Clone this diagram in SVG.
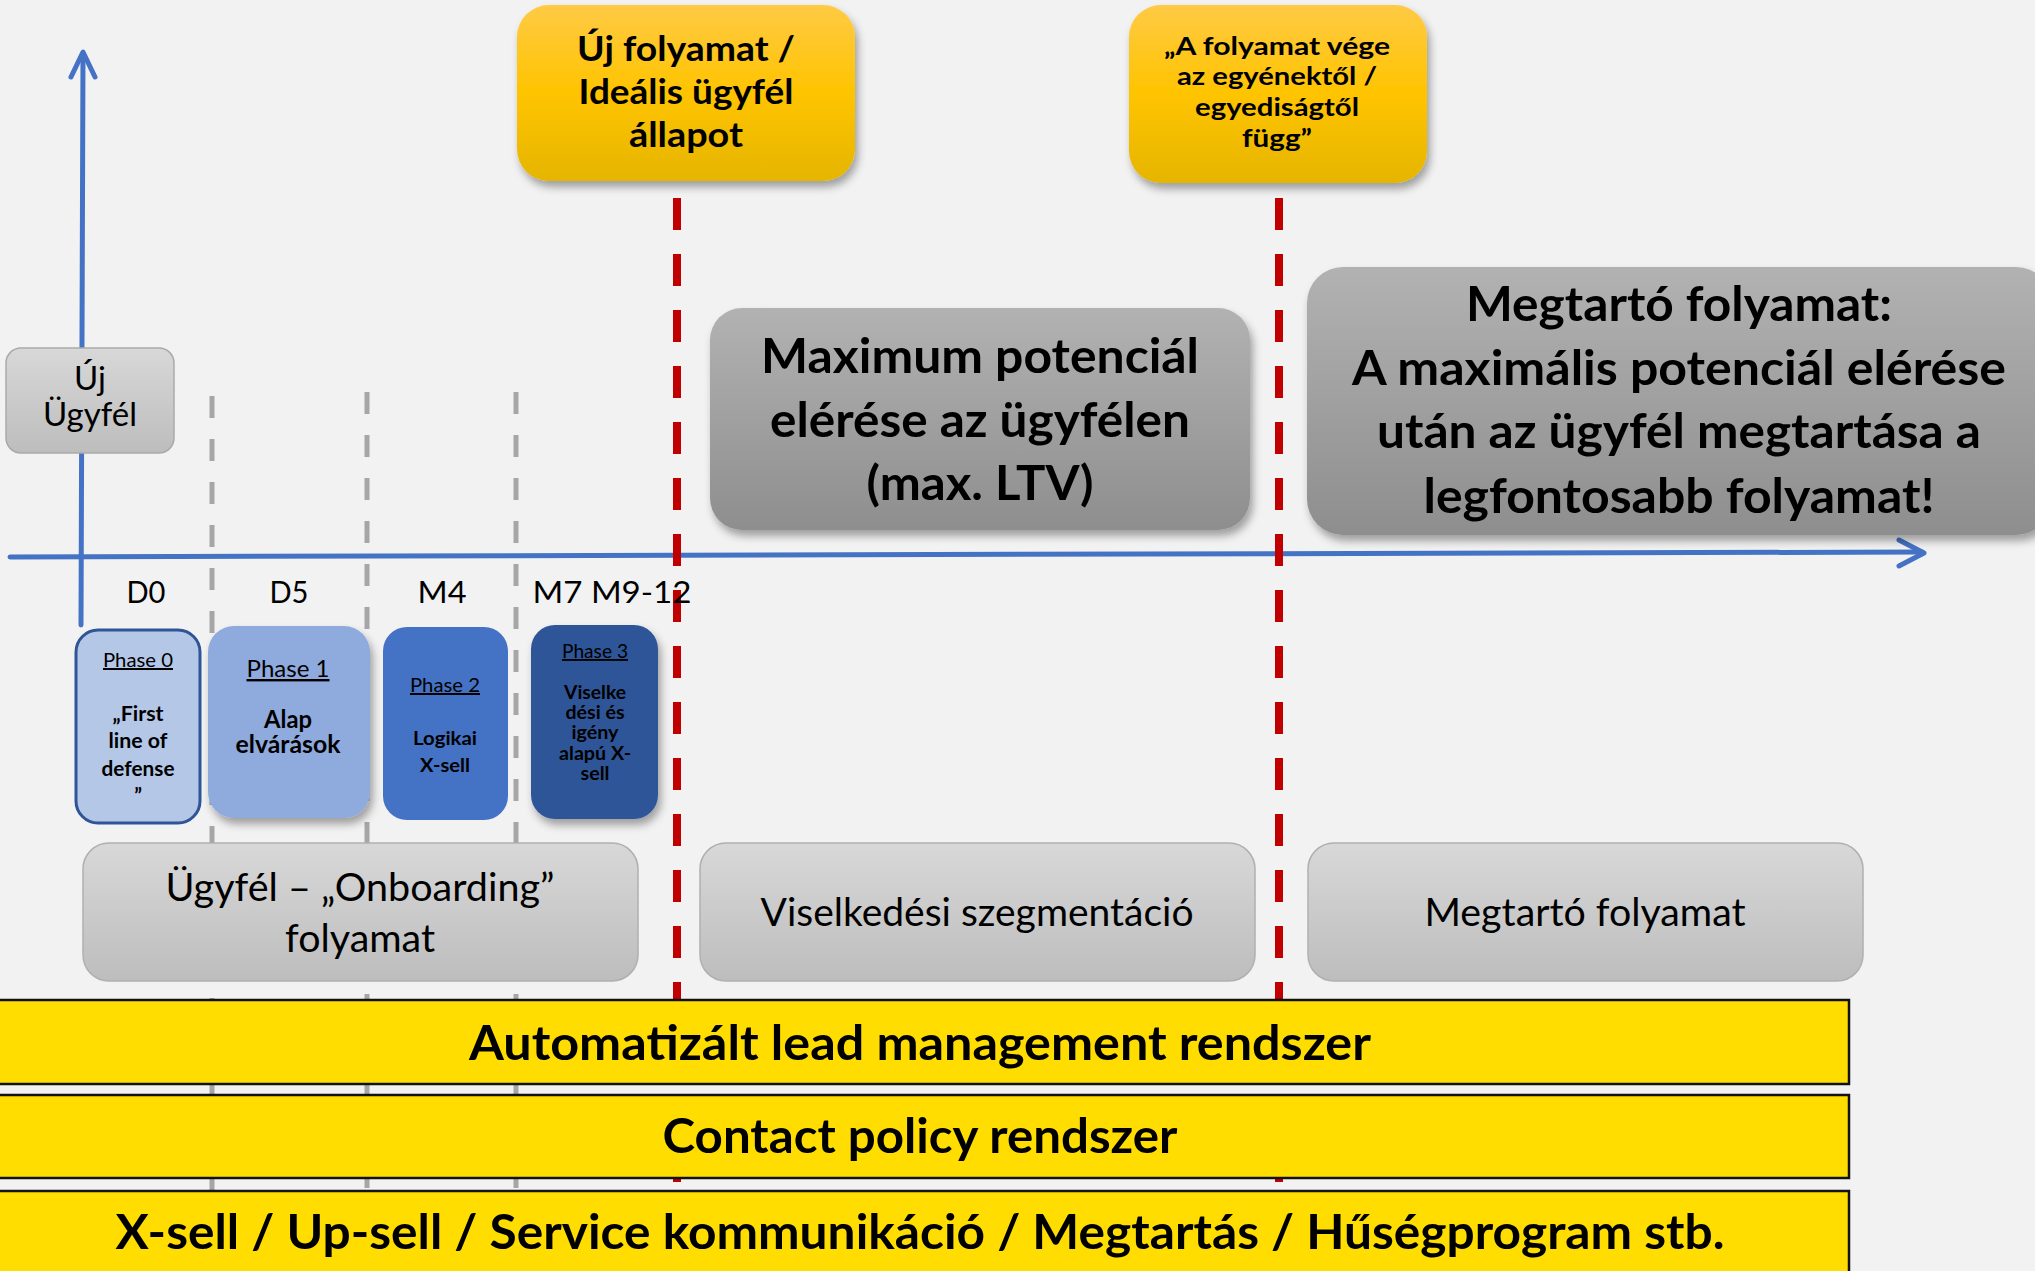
<svg xmlns="http://www.w3.org/2000/svg" width="2035" height="1271" viewBox="0 0 2035 1271">
<style>
text{font-family:Lato,"Open Sans","DejaVu Sans",sans-serif;fill:#000;text-anchor:middle}
.b{font-weight:bold}
.gdash{stroke:#a6a6a6;stroke-width:5;stroke-dasharray:22 21;fill:none}
.rdash{stroke:#c00000;stroke-width:8;stroke-dasharray:32 24;fill:none}
.axis{stroke:#4472c4;stroke-width:5;fill:none;stroke-linecap:round;stroke-linejoin:round}
.bar{fill:#ffdd00;stroke:#111;stroke-width:2.5}
.u{text-decoration:underline}
</style>
<defs>
<linearGradient id="gOrange" x1="0" y1="0" x2="0" y2="1">
<stop offset="0" stop-color="#ffca45"/><stop offset="0.5" stop-color="#ffc400"/><stop offset="1" stop-color="#e5b500"/>
</linearGradient>
<linearGradient id="gDark" x1="0" y1="0" x2="0" y2="1">
<stop offset="0" stop-color="#b2b2b2"/><stop offset="1" stop-color="#8e8e8e"/>
</linearGradient>
<linearGradient id="gLight" x1="0" y1="0" x2="0" y2="1">
<stop offset="0" stop-color="#d8d8d8"/><stop offset="1" stop-color="#bdbdbd"/>
</linearGradient>
<filter id="sh" x="-10%" y="-10%" width="125%" height="130%">
<feDropShadow dx="3" dy="6" stdDeviation="4" flood-color="#000" flood-opacity="0.35"/>
</filter>
</defs>
<rect x="0" y="0" width="2035" height="1271" fill="#f2f2f2"/>

<g id="connectors">
<line class="gdash" x1="212" y1="396" x2="212" y2="1190"/>
<line class="gdash" x1="367" y1="392" x2="367" y2="1190"/>
<line class="gdash" x1="516" y1="392" x2="516" y2="1190"/>
<line class="axis" x1="10" y1="557" x2="1922" y2="552"/>
<polyline class="axis" points="1899,540 1924,553 1899,566"/>
<line class="axis" x1="81" y1="625" x2="83" y2="54"/>
<polyline class="axis" points="71,77 83,52 95,77"/>
<line class="rdash" x1="677" y1="198" x2="677" y2="1190"/>
<line class="rdash" x1="1279" y1="198" x2="1279" y2="1190"/>
</g>

<g id="uj-ugyfel">
<rect x="6" y="348" width="168" height="105" rx="15" fill="url(#gLight)" stroke="#aaaaaa" stroke-width="1.5"/>
<text x="90" y="390" font-size="33">Új</text>
<text x="90" y="426" font-size="33" textLength="94" lengthAdjust="spacingAndGlyphs">Ügyfél</text>
</g>

<g id="uj-folyamat">
<rect x="517" y="5" width="338" height="176" rx="32" fill="url(#gOrange)" filter="url(#sh)"/>
<text class="b" x="686" y="61" font-size="34" textLength="218" lengthAdjust="spacingAndGlyphs">Új folyamat /</text>
<text class="b" x="686" y="104" font-size="34" textLength="215" lengthAdjust="spacingAndGlyphs">Ideális ügyfél</text>
<text class="b" x="686" y="147" font-size="34" textLength="114" lengthAdjust="spacingAndGlyphs">állapot</text>
</g>

<g id="folyamat-vege">
<rect x="1129" y="5" width="298" height="178" rx="32" fill="url(#gOrange)" filter="url(#sh)"/>
<text class="b" x="1277" y="55" font-size="25" textLength="226" lengthAdjust="spacingAndGlyphs">„A folyamat vége</text>
<text class="b" x="1277" y="85" font-size="25" textLength="200" lengthAdjust="spacingAndGlyphs">az egyénektől /</text>
<text class="b" x="1277" y="116" font-size="25" textLength="164" lengthAdjust="spacingAndGlyphs">egyediságtől</text>
<text class="b" x="1277" y="147" font-size="25" textLength="70" lengthAdjust="spacingAndGlyphs">függ”</text>
</g>

<g id="maximum">
<rect x="710" y="308" width="540" height="222" rx="32" fill="url(#gDark)" filter="url(#sh)"/>
<text class="b" x="980" y="373" font-size="47" textLength="438" lengthAdjust="spacingAndGlyphs">Maximum potenciál</text>
<text class="b" x="980" y="437" font-size="47" textLength="420" lengthAdjust="spacingAndGlyphs">elérése az ügyfélen</text>
<text class="b" x="980" y="500" font-size="47" textLength="227" lengthAdjust="spacingAndGlyphs">(max. LTV)</text>
</g>

<g id="megtarto-big">
<rect x="1307" y="267" width="745" height="268" rx="36" fill="url(#gDark)" filter="url(#sh)"/>
<text class="b" x="1679" y="321" font-size="47" textLength="426" lengthAdjust="spacingAndGlyphs">Megtartó folyamat:</text>
<text class="b" x="1679" y="385" font-size="47" textLength="654" lengthAdjust="spacingAndGlyphs">A maximális potenciál elérése</text>
<text class="b" x="1679" y="448" font-size="47" textLength="604" lengthAdjust="spacingAndGlyphs">után az ügyfél megtartása a</text>
<text class="b" x="1679" y="513" font-size="47" textLength="511" lengthAdjust="spacingAndGlyphs">legfontosabb folyamat!</text>
</g>

<g id="timeline-labels">
<text x="146" y="603" font-size="31" textLength="39" lengthAdjust="spacingAndGlyphs">D0</text>
<text x="289" y="603" font-size="31" textLength="39" lengthAdjust="spacingAndGlyphs">D5</text>
<text x="442" y="603" font-size="31" textLength="49" lengthAdjust="spacingAndGlyphs">M4</text>
<text x="612" y="603" font-size="31" textLength="159" lengthAdjust="spacingAndGlyphs">M7 M9-12</text>
</g>

<g id="phase0">
<rect x="76" y="630" width="124" height="193" rx="22" fill="#b4c7e7" stroke="#2f5597" stroke-width="3"/>
<text class="u" x="138" y="667" font-size="20" textLength="70" lengthAdjust="spacingAndGlyphs">Phase 0</text>
<text class="b" x="138" y="721" font-size="20" textLength="51" lengthAdjust="spacingAndGlyphs">„First</text>
<text class="b" x="138" y="748" font-size="20" textLength="59" lengthAdjust="spacingAndGlyphs">line of</text>
<text class="b" x="138" y="776" font-size="20" textLength="73" lengthAdjust="spacingAndGlyphs">defense</text>
<text class="b" x="138" y="803" font-size="20">”</text>
</g>

<g id="phase1">
<rect x="208" y="626" width="162" height="192" rx="26" fill="#8faadc" filter="url(#sh)"/>
<text class="u" x="288" y="677" font-size="24" textLength="83" lengthAdjust="spacingAndGlyphs">Phase 1</text>
<text class="b" x="288" y="728" font-size="24" textLength="48" lengthAdjust="spacingAndGlyphs">Alap</text>
<text class="b" x="288" y="753" font-size="24" textLength="105" lengthAdjust="spacingAndGlyphs">elvárások</text>
</g>

<g id="phase2">
<rect x="383" y="627" width="125" height="193" rx="24" fill="#4472c4"/>
<text class="u" x="445" y="692" font-size="20" textLength="70" lengthAdjust="spacingAndGlyphs">Phase 2</text>
<text class="b" x="445" y="745" font-size="19" textLength="64" lengthAdjust="spacingAndGlyphs">Logikai</text>
<text class="b" x="445" y="772" font-size="19" textLength="50" lengthAdjust="spacingAndGlyphs">X-sell</text>
</g>

<g id="phase3">
<rect x="531" y="625" width="127" height="194" rx="24" fill="#2f5597" filter="url(#sh)"/>
<text class="u" x="595" y="658" font-size="19" textLength="66" lengthAdjust="spacingAndGlyphs">Phase 3</text>
<text class="b" x="595" y="699" font-size="18" textLength="62" lengthAdjust="spacingAndGlyphs">Viselke</text>
<text class="b" x="595" y="719" font-size="18" textLength="59" lengthAdjust="spacingAndGlyphs">dési és</text>
<text class="b" x="595" y="739" font-size="18" textLength="47" lengthAdjust="spacingAndGlyphs">igény</text>
<text class="b" x="595" y="760" font-size="18" textLength="72" lengthAdjust="spacingAndGlyphs">alapú X-</text>
<text class="b" x="595" y="780" font-size="18" textLength="29" lengthAdjust="spacingAndGlyphs">sell</text>
</g>

<g id="onboarding">
<rect x="83" y="843" width="555" height="138" rx="26" fill="url(#gLight)" stroke="#b0b0b0" stroke-width="1.5"/>
<text x="360" y="901" font-size="38" textLength="389" lengthAdjust="spacingAndGlyphs">Ügyfél – „Onboarding”</text>
<text x="360" y="952" font-size="38" textLength="150" lengthAdjust="spacingAndGlyphs">folyamat</text>
</g>

<g id="viselkedesi">
<rect x="700" y="843" width="555" height="138" rx="26" fill="url(#gLight)" stroke="#b0b0b0" stroke-width="1.5"/>
<text x="977" y="926" font-size="38" textLength="433" lengthAdjust="spacingAndGlyphs">Viselkedési szegmentáció</text>
</g>

<g id="megtarto-folyamat">
<rect x="1308" y="843" width="555" height="138" rx="26" fill="url(#gLight)" stroke="#b0b0b0" stroke-width="1.5"/>
<text x="1585" y="926" font-size="38" textLength="321" lengthAdjust="spacingAndGlyphs">Megtartó folyamat</text>
</g>

<g id="bar-lead">
<rect class="bar" x="-3" y="1000" width="1852" height="84"/>
<text class="b" x="920" y="1060" font-size="48" textLength="902" lengthAdjust="spacingAndGlyphs">Automatizált lead management rendszer</text>
</g>
<g id="bar-contact">
<rect class="bar" x="-3" y="1095" width="1852" height="83"/>
<text class="b" x="920" y="1153" font-size="48" textLength="515" lengthAdjust="spacingAndGlyphs">Contact policy rendszer</text>
</g>
<g id="bar-xsell">
<rect class="bar" x="-3" y="1191" width="1852" height="90"/>
<text class="b" x="920" y="1249" font-size="48" textLength="1609" lengthAdjust="spacingAndGlyphs">X-sell / Up-sell / Service kommunikáció / Megtartás / Hűségprogram stb.</text>
</g>
</svg>
